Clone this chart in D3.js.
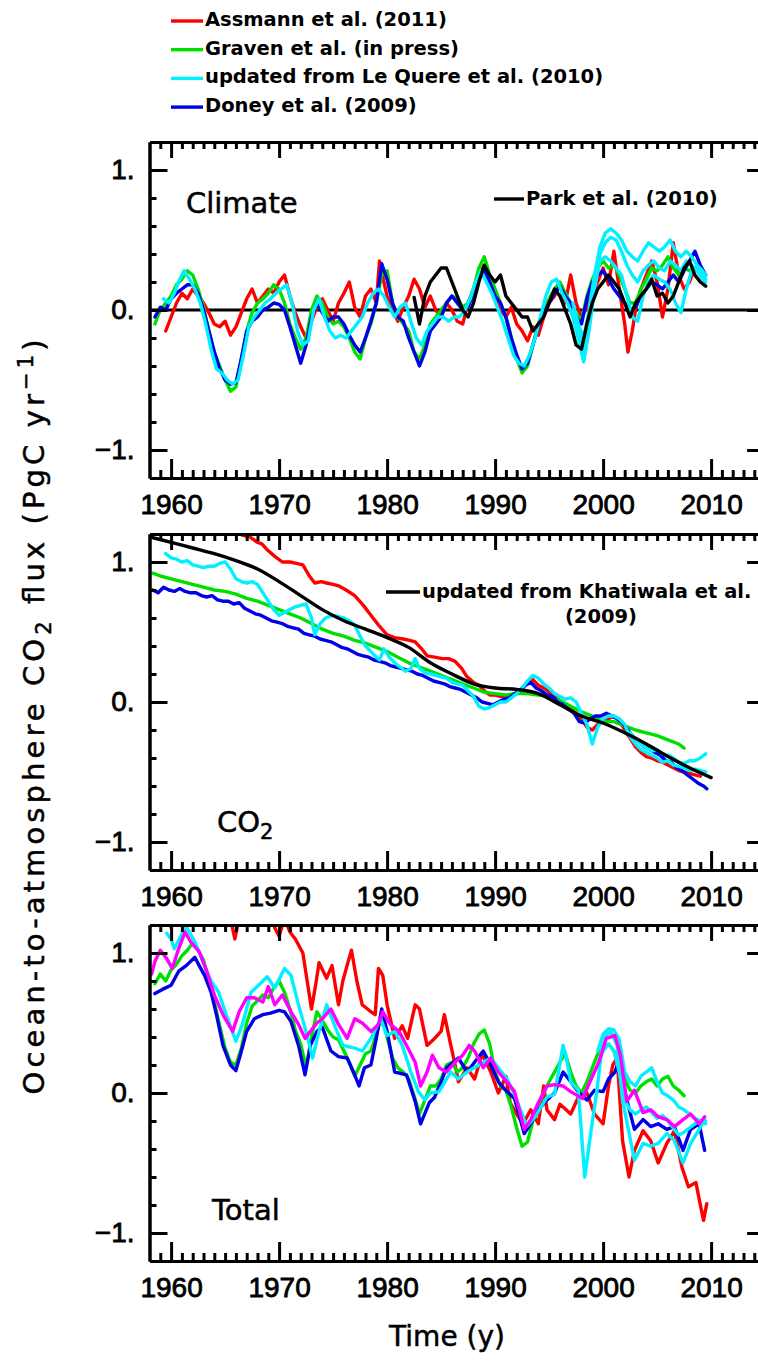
<!DOCTYPE html>
<html>
<head>
<meta charset="utf-8">
<script src="https://cdn.jsdelivr.net/npm/d3@7"></script>
<style>
  body { margin: 0; background: #fff; }
  svg { display: block; }
</style>
</head>
<body>
<svg id="chart" width="758" height="1369"></svg>
<script>
// ---------------------------------------------------------------
// Ocean-to-atmosphere CO2 flux anomalies (PgC / yr), [year, value]
// ---------------------------------------------------------------

const decadeTicks = [1960, 1970, 1980, 1990, 2000, 2010];
const valueTicks = [-1, 0, 1];
const minorValueTicks = [-0.8, -0.6, -0.4, -0.2, 0.2, 0.4, 0.6, 0.8];

const legendLabels = [
  "Assmann et al. (2011)",
  "Graven et al. (in press)",
  "updated from Le Quere et al. (2010)",
  "Doney et al. (2009)"
];

// ---- Climate panel ----
const climateAssmann = [[1959.5,-0.15],[1960,-0.05],[1960.5,0.05],[1961,0.12],[1961.5,0.08],[1962,0.15],[1962.5,0.1],[1963,0.05],[1963.5,-0.02],[1964,-0.1],[1964.5,-0.12],[1965,-0.08],[1965.5,-0.18],[1966,-0.12],[1966.5,-0.02],[1967,0.08],[1967.5,0.15],[1968,0.05],[1968.5,0.1],[1969,0.15],[1969.5,0.12],[1970,0.2],[1970.5,0.25],[1971,0.1],[1971.5,-0.02],[1972,-0.12],[1972.5,-0.2],[1973,-0.08],[1973.5,0.02],[1974,0.08],[1974.5,0.0],[1975,-0.08],[1975.5,0.05],[1976,0.12],[1976.5,0.2],[1977,0.02],[1977.5,-0.05],[1978,0.1],[1978.5,0.15],[1979,0.05],[1979.3,0.35],[1979.7,0.2],[1980,0.1],[1980.5,0.0],[1981,-0.08],[1981.5,0.02],[1982,0.1],[1982.5,0.22],[1983,0.15],[1983.5,0.02],[1984,0.1],[1984.5,0.0],[1985,-0.05],[1985.5,0.05],[1986,0.0],[1986.5,-0.08],[1987,-0.1],[1987.5,0.05],[1988,0.15],[1988.5,0.25],[1989,0.32],[1989.5,0.18],[1990,0.12],[1990.5,0.0],[1991,-0.05],[1991.5,0.02],[1992,-0.1],[1992.5,-0.15],[1993,-0.22],[1993.5,-0.12],[1994,-0.18],[1994.5,-0.05],[1995,0.05],[1995.5,0.1],[1996,0.18],[1996.5,0.05],[1997,0.25],[1997.5,0.05],[1998,-0.05],[1998.5,0.02],[1999,0.12],[1999.5,0.2],[2000,0.3],[2000.5,0.18],[2001,0.42],[2001.5,0.15],[2002,-0.1],[2002.3,-0.3],[2002.7,-0.15],[2003,0.0],[2003.5,0.15],[2004,0.25],[2004.5,0.35],[2005,0.2],[2005.5,-0.05],[2006,0.15],[2006.5,0.48],[2007,0.25],[2007.5,0.15],[2008,0.2],[2008.5,0.3]];

const climateGraven = [[1958.5,-0.1],[1959,0.0],[1959.5,0.05],[1960,0.1],[1960.5,0.18],[1961,0.22],[1961.5,0.28],[1962,0.25],[1962.5,0.15],[1963,0.02],[1963.5,-0.15],[1964,-0.3],[1964.5,-0.4],[1965,-0.5],[1965.5,-0.58],[1966,-0.55],[1966.5,-0.35],[1967,-0.15],[1967.5,-0.02],[1968,0.05],[1968.5,0.08],[1969,0.12],[1969.5,0.18],[1970,0.15],[1970.5,0.05],[1971,-0.1],[1971.5,-0.2],[1972,-0.28],[1972.5,-0.2],[1973,0.0],[1973.5,0.1],[1974,0.05],[1974.5,-0.05],[1975,-0.1],[1975.5,-0.08],[1976,-0.12],[1976.5,-0.2],[1977,-0.3],[1977.5,-0.35],[1978,-0.2],[1978.5,-0.1],[1979,0.05],[1979.5,0.25],[1980,0.28],[1980.5,0.05],[1981,-0.05],[1981.5,-0.1],[1982,-0.15],[1982.5,-0.3],[1983,-0.35],[1983.5,-0.25],[1984,-0.1],[1984.5,-0.05],[1985,0.0],[1985.5,0.05],[1986,0.1],[1986.5,0.08],[1987,0.02],[1987.5,0.05],[1988,0.15],[1988.5,0.3],[1989,0.38],[1989.5,0.25],[1990,0.15],[1990.5,0.05],[1991,-0.05],[1991.5,-0.2],[1992,-0.35],[1992.5,-0.45],[1993,-0.4],[1993.5,-0.25],[1994,-0.1],[1994.5,0.0],[1995,0.08],[1995.5,0.15],[1996,0.2],[1996.5,0.12],[1997,0.05],[1997.5,-0.02],[1998,-0.08],[1998.5,0.1],[1999,0.22],[1999.5,0.3],[2000,0.35],[2000.5,0.3],[2001,0.32],[2001.5,0.25],[2002,0.15],[2002.5,0.05],[2003,0.05],[2003.5,0.15],[2004,0.22],[2004.5,0.3],[2005,0.28],[2005.5,0.32],[2006,0.38],[2006.5,0.3],[2007,0.25],[2007.5,0.3],[2008,0.28],[2008.5,0.3]];

const climateDoney = [[1958.5,-0.05],[1959,0.02],[1959.5,0.0],[1960,0.08],[1960.5,0.12],[1961,0.15],[1961.5,0.18],[1962,0.18],[1962.5,0.12],[1963,0.0],[1963.5,-0.15],[1964,-0.3],[1964.5,-0.42],[1965,-0.5],[1965.5,-0.53],[1966,-0.52],[1966.5,-0.35],[1967,-0.15],[1967.5,-0.08],[1968,-0.05],[1968.5,0.0],[1969,0.02],[1969.5,0.05],[1970,0.04],[1970.5,0.0],[1971,-0.12],[1971.5,-0.25],[1972,-0.38],[1972.5,-0.25],[1973,-0.05],[1973.5,0.05],[1974,-0.02],[1974.5,-0.08],[1975,-0.05],[1975.5,-0.05],[1976,-0.1],[1976.5,-0.18],[1977,-0.25],[1977.5,-0.3],[1978,-0.2],[1978.5,-0.08],[1979,0.05],[1979.5,0.33],[1980,0.22],[1980.5,0.05],[1981,-0.05],[1981.5,-0.08],[1982,-0.2],[1982.5,-0.3],[1983,-0.4],[1983.5,-0.3],[1984,-0.15],[1984.5,-0.1],[1985,-0.05],[1985.5,0.05],[1986,0.1],[1986.5,0.05],[1987,0.0],[1987.5,0.02],[1988,0.12],[1988.5,0.22],[1989,0.28],[1989.5,0.2],[1990,0.1],[1990.5,0.05],[1991,-0.05],[1991.5,-0.2],[1992,-0.32],[1992.5,-0.42],[1993,-0.38],[1993.5,-0.25],[1994,-0.12],[1994.5,-0.02],[1995,0.05],[1995.5,0.12],[1996,0.17],[1996.5,0.1],[1997,0.05],[1997.5,-0.05],[1998,-0.1],[1998.5,0.08],[1999,0.2],[1999.5,0.25],[2000,0.28],[2000.5,0.22],[2001,0.15],[2001.5,0.1],[2002,0.05],[2002.5,0.0],[2003,0.02],[2003.5,0.1],[2004,0.15],[2004.5,0.2],[2005,0.18],[2005.5,0.15],[2006,0.2],[2006.5,0.25],[2007,0.2],[2007.5,0.28],[2008,0.35],[2008.5,0.42],[2009,0.32],[2009.5,0.25]];

const climateLeQuere = [[1959.3,0.08],[1959.8,0.05],[1960.3,0.12],[1960.8,0.22],[1961.2,0.28],[1961.7,0.22],[1962.2,0.15],[1962.7,0.05],[1963.2,-0.1],[1963.7,-0.28],[1964.2,-0.42],[1964.7,-0.45],[1965.2,-0.5],[1965.7,-0.53],[1966.2,-0.5],[1966.7,-0.32],[1967.2,-0.12],[1967.7,-0.05],[1968.2,0.0],[1968.7,0.05],[1969.2,0.08],[1969.7,0.12],[1970.2,0.15],[1970.7,0.18],[1971.2,0.05],[1971.7,-0.15],[1972.2,-0.25],[1972.7,-0.22],[1973.2,0.0],[1973.7,0.08],[1974.2,-0.05],[1974.7,-0.15],[1975.2,-0.2],[1975.7,-0.18],[1976.2,-0.2],[1976.7,-0.15],[1977.2,-0.1],[1977.7,-0.05],[1978.2,0.05],[1978.7,0.12],[1979.2,0.15],[1979.7,0.1],[1980.2,0.02],[1980.7,-0.05],[1981.2,0.02],[1981.7,0.05],[1982.2,-0.08],[1982.7,-0.2],[1983.2,-0.25],[1983.7,-0.15],[1984.2,-0.1],[1984.7,-0.05],[1985.2,-0.05],[1985.7,-0.08],[1986.2,-0.05],[1986.7,-0.05],[1987.2,0.0],[1987.7,0.08],[1988.2,0.2],[1988.7,0.28],[1989.2,0.2],[1989.7,0.12],[1990.2,0.02],[1990.7,-0.08],[1991.2,-0.2],[1991.7,-0.32],[1992.2,-0.38],[1992.7,-0.4],[1993.2,-0.32],[1993.7,-0.2],[1994.2,-0.05],[1994.7,0.1],[1995.2,0.2],[1995.7,0.22],[1996.2,0.12],[1996.7,0.05],[1997.2,-0.05],[1997.7,-0.2],[1998.2,-0.37],[1998.7,-0.15],[1999.2,0.15],[1999.7,0.35],[2000.2,0.38],[2000.7,0.35],[2001.2,0.3],[2001.7,0.25],[2002.2,0.1],[2002.7,-0.05],[2003.2,-0.08],[2003.7,0.1],[2004.2,0.2],[2004.7,0.25],[2005.2,0.22],[2005.7,0.2],[2006.2,0.15],[2006.7,0.05],[2007.2,-0.02],[2007.7,0.15],[2008.2,0.28],[2008.7,0.3],[2009.2,0.25],[2009.5,0.22]];

const climateLeQuereB = [[1997.2,0.05],[1997.7,-0.1],[1998.2,-0.2],[1998.7,0.0],[1999.2,0.25],[1999.7,0.45],[2000.2,0.55],[2000.7,0.58],[2001.2,0.55],[2001.7,0.5],[2002.2,0.42],[2002.7,0.38],[2003.2,0.35],[2003.7,0.42],[2004.2,0.48],[2004.7,0.45],[2005.2,0.42],[2005.7,0.45],[2006.2,0.5],[2006.7,0.42],[2007.2,0.38],[2007.7,0.42],[2008.2,0.38],[2008.7,0.32],[2009.2,0.28],[2009.5,0.25]];

const climateLeQuereC = [[1997.2,0.0],[1997.7,-0.15],[1998.2,-0.3],[1998.7,-0.05],[1999.2,0.2],[1999.7,0.4],[2000.2,0.48],[2000.7,0.52],[2001.2,0.5],[2001.7,0.42],[2002.2,0.32],[2002.7,0.25],[2003.2,0.2],[2003.7,0.28],[2004.2,0.32],[2004.7,0.35],[2005.2,0.3],[2005.7,0.28],[2006.2,0.35],[2006.7,0.32],[2007.2,0.28],[2007.7,0.35],[2008.2,0.32],[2008.7,0.28],[2009.2,0.22],[2009.5,0.2]];

const climatePark = [[1982.5,0.09],[1983,-0.1],[1983.5,0.1],[1984,0.2],[1984.5,0.25],[1985,0.3],[1985.5,0.3],[1986,0.2],[1986.5,0.1],[1987,0.0],[1987.5,-0.05],[1988,0.05],[1988.5,0.2],[1989,0.32],[1989.5,0.25],[1990,0.2],[1990.5,0.25],[1991,0.1],[1991.5,0.05],[1992,0.0],[1992.5,-0.05],[1993,-0.05],[1993.5,-0.15],[1994,-0.1],[1994.5,-0.05],[1995,0.05],[1995.5,0.15],[1996,0.1],[1996.5,0.0],[1997,-0.1],[1997.5,-0.25],[1998,-0.28],[1998.5,-0.1],[1999,0.05],[1999.5,0.15],[2000,0.2],[2000.5,0.25],[2001,0.2],[2001.5,0.15],[2002,0.05],[2002.5,-0.05],[2003,0.05],[2003.5,0.1],[2004,0.15],[2004.5,0.22],[2005,0.1],[2005.5,0.12],[2006,0.05],[2006.5,0.1],[2007,0.2],[2007.5,0.3],[2008,0.35],[2008.5,0.25],[2009,0.2],[2009.5,0.17]];

// ---- CO2 panel ----
const co2Assmann = [[1965.6,1.28],[1966.6,1.19],[1967.3,1.18],[1968,1.14],[1968.4,1.13],[1969,1.08],[1969.6,1.04],[1970.3,1.0],[1971,1.0],[1971.6,0.99],[1972.2,0.98],[1972.8,0.9],[1973.3,0.85],[1973.9,0.86],[1974.4,0.85],[1975,0.84],[1975.5,0.83],[1976.2,0.8],[1977,0.76],[1977.8,0.69],[1978.5,0.62],[1979.2,0.55],[1980,0.48],[1980.7,0.46],[1981.5,0.45],[1982.1,0.44],[1982.6,0.43],[1983.2,0.38],[1983.7,0.33],[1984.4,0.32],[1985.1,0.31],[1985.7,0.31],[1986.3,0.29],[1986.9,0.24],[1987.4,0.18],[1988,0.14],[1988.5,0.12],[1989,0.08],[1989.5,0.05],[1990,0.05],[1990.5,0.04],[1991,0.04],[1991.5,0.05],[1992,0.06],[1992.5,0.1],[1993,0.14],[1993.5,0.16],[1994,0.12],[1994.5,0.1],[1995,0.07],[1995.5,0.04],[1996,0.01],[1996.5,-0.03],[1997,-0.05],[1997.5,-0.08],[1998,-0.12],[1998.5,-0.18],[1999,-0.2],[1999.5,-0.16],[2000,-0.14],[2000.5,-0.12],[2001,-0.1],[2001.5,-0.13],[2002,-0.2],[2002.5,-0.26],[2003,-0.32],[2003.5,-0.36],[2004,-0.39],[2004.5,-0.4],[2005,-0.42],[2005.5,-0.43],[2006,-0.45],[2006.5,-0.47],[2007,-0.49],[2007.5,-0.5],[2008,-0.51],[2008.5,-0.52],[2009,-0.53]];

const co2Graven = [[1958.3,0.92],[1959,0.9],[1960,0.88],[1961,0.86],[1962,0.84],[1963,0.82],[1964,0.8],[1965,0.79],[1966,0.77],[1967,0.74],[1968,0.72],[1969,0.69],[1970,0.66],[1971,0.63],[1972,0.6],[1973,0.56],[1974,0.52],[1975,0.49],[1976,0.47],[1977,0.44],[1978,0.42],[1979,0.39],[1980,0.36],[1981,0.32],[1982,0.28],[1983,0.25],[1984,0.22],[1985,0.19],[1986,0.16],[1987,0.13],[1988,0.1],[1989,0.07],[1990,0.06],[1991,0.05],[1992,0.06],[1993,0.06],[1994,0.05],[1995,0.04],[1996,0.01],[1997,-0.03],[1998,-0.07],[1999,-0.1],[2000,-0.14],[2001,-0.14],[2002,-0.17],[2003,-0.2],[2004,-0.22],[2005,-0.24],[2006,-0.27],[2007,-0.3],[2007.5,-0.33]];

const co2Doney = [[1958.3,0.8],[1958.8,0.78],[1959.3,0.82],[1959.8,0.8],[1960.3,0.79],[1960.8,0.81],[1961.3,0.79],[1961.8,0.78],[1962.3,0.78],[1962.8,0.76],[1963.3,0.75],[1963.8,0.76],[1964.3,0.73],[1964.8,0.72],[1965.3,0.72],[1965.8,0.7],[1966.3,0.71],[1966.8,0.67],[1967.3,0.65],[1967.8,0.63],[1968.3,0.62],[1968.8,0.6],[1969.3,0.58],[1969.8,0.57],[1970.3,0.56],[1970.8,0.54],[1971.3,0.53],[1971.8,0.52],[1972.3,0.49],[1972.8,0.48],[1973.3,0.47],[1973.8,0.45],[1974.3,0.44],[1974.8,0.43],[1975.3,0.41],[1975.8,0.39],[1976.3,0.38],[1976.8,0.36],[1977.3,0.34],[1977.8,0.33],[1978.3,0.32],[1978.8,0.3],[1979.3,0.29],[1979.8,0.28],[1980.3,0.26],[1980.8,0.25],[1981.3,0.24],[1981.8,0.23],[1982.3,0.22],[1982.8,0.2],[1983.3,0.19],[1983.8,0.17],[1984.3,0.15],[1984.8,0.14],[1985.3,0.13],[1985.8,0.11],[1986.3,0.1],[1986.8,0.09],[1987.3,0.07],[1987.8,0.05],[1988.3,0.03],[1988.8,0.0],[1989.3,-0.01],[1989.8,-0.02],[1990.3,0.0],[1990.8,0.02],[1991.3,0.03],[1991.8,0.06],[1992.3,0.08],[1992.8,0.12],[1993.3,0.14],[1993.8,0.1],[1994.3,0.08],[1994.8,0.05],[1995.3,0.04],[1995.8,0.0],[1996.3,-0.02],[1996.8,-0.05],[1997.3,-0.08],[1997.8,-0.14],[1998.3,-0.15],[1998.8,-0.12],[1999.3,-0.1],[1999.8,-0.1],[2000.3,-0.08],[2000.8,-0.1],[2001.3,-0.12],[2001.8,-0.15],[2002.3,-0.2],[2002.8,-0.25],[2003.3,-0.28],[2003.8,-0.32],[2004.3,-0.34],[2004.8,-0.36],[2005.3,-0.38],[2005.8,-0.42],[2006.3,-0.43],[2006.8,-0.47],[2007.3,-0.49],[2007.8,-0.52],[2008.3,-0.55],[2008.8,-0.58],[2009.3,-0.6],[2009.6,-0.62]];

const co2LeQuere = [[1959.5,1.06],[1960,1.03],[1960.5,1.02],[1961,1.0],[1961.5,1.01],[1962,0.98],[1962.5,0.97],[1963,0.96],[1963.5,0.97],[1964,0.97],[1964.5,0.99],[1965,1.0],[1965.5,0.95],[1966,0.88],[1966.5,0.86],[1967,0.85],[1967.5,0.86],[1968,0.84],[1968.5,0.78],[1969,0.72],[1969.5,0.66],[1970,0.62],[1970.5,0.64],[1971,0.66],[1971.5,0.68],[1972,0.69],[1972.5,0.7],[1973,0.6],[1973.3,0.48],[1973.8,0.56],[1974.3,0.6],[1975,0.62],[1975.5,0.61],[1976,0.6],[1976.5,0.58],[1977,0.55],[1977.5,0.47],[1978,0.4],[1978.5,0.36],[1979,0.32],[1979.3,0.3],[1979.7,0.38],[1980.2,0.32],[1980.7,0.28],[1981.2,0.25],[1981.7,0.22],[1982.2,0.24],[1982.6,0.31],[1983,0.24],[1983.5,0.21],[1984,0.2],[1984.5,0.19],[1985,0.18],[1985.5,0.17],[1986,0.14],[1986.5,0.13],[1987,0.12],[1987.5,0.08],[1988,0.04],[1988.5,-0.03],[1989,-0.05],[1989.5,-0.04],[1990,-0.02],[1990.5,0.0],[1991,0.0],[1991.5,0.03],[1992,0.06],[1992.5,0.1],[1993,0.15],[1993.5,0.19],[1994,0.17],[1994.5,0.13],[1995,0.1],[1995.5,0.06],[1996,0.04],[1996.5,0.02],[1997,0.03],[1997.5,0.0],[1998,-0.08],[1998.5,-0.16],[1999,-0.3],[1999.5,-0.18],[2000,-0.12],[2000.5,-0.1],[2001,-0.1],[2001.5,-0.12],[2002,-0.16],[2002.5,-0.25],[2003,-0.3],[2003.5,-0.34],[2004,-0.36],[2004.5,-0.38],[2005,-0.4],[2005.5,-0.43],[2006,-0.42],[2006.5,-0.45],[2007,-0.46],[2007.5,-0.47],[2008,-0.49],[2008.5,-0.48],[2009,-0.49],[2009.5,-0.5]];

const co2LeQuereB = [[2002.5,-0.22],[2003,-0.27],[2003.5,-0.3],[2004,-0.33],[2004.5,-0.35],[2005,-0.34],[2005.5,-0.37],[2006,-0.38],[2006.5,-0.4],[2007,-0.43],[2007.5,-0.44],[2008,-0.42],[2008.5,-0.42],[2009,-0.4],[2009.5,-0.37]];

const co2Khatiwala = [[1958,1.18],[1960,1.14],[1962,1.1],[1964,1.06],[1966,1.01],[1968,0.95],[1970,0.86],[1972,0.76],[1974,0.66],[1976,0.58],[1978,0.52],[1980,0.46],[1982,0.39],[1984,0.28],[1986,0.2],[1988,0.13],[1990,0.1],[1992,0.09],[1994,0.06],[1996,-0.02],[1998,-0.1],[2000,-0.15],[2002,-0.22],[2004,-0.3],[2006,-0.39],[2008,-0.47],[2010,-0.54]];

// ---- Total panel ----
const totalAssmann = [[1959.5,1.3],[1960,1.18],[1960.5,1.3],[1961,1.35],[1962,1.4],[1963,1.4],[1964,1.35],[1965,1.3],[1965.5,1.25],[1965.9,1.1],[1966.3,1.25],[1967,1.35],[1967.5,1.25],[1968,1.3],[1969,1.3],[1969.6,1.18],[1970,1.12],[1970.5,1.25],[1971,1.15],[1971.5,1.1],[1972.2,1.0],[1972.6,0.8],[1973.0,0.6],[1973.4,0.78],[1973.7,0.93],[1974.4,0.82],[1974.9,0.91],[1975.5,0.63],[1975.9,0.8],[1976.4,0.94],[1976.7,1.02],[1977.2,0.8],[1977.7,0.63],[1978.5,0.58],[1978.9,0.56],[1979.2,0.89],[1979.6,0.84],[1980.0,0.63],[1980.7,0.39],[1981.4,0.48],[1981.9,0.39],[1982.6,0.63],[1983.0,0.6],[1983.7,0.34],[1984.4,0.39],[1985.0,0.44],[1985.3,0.56],[1985.9,0.34],[1986.3,0.2],[1986.6,0.08],[1987.4,0.18],[1988.1,0.1],[1988.8,0.28],[1989.6,0.15],[1990.3,0.0],[1991.0,0.12],[1991.4,-0.07],[1992.0,-0.15],[1992.6,-0.22],[1993.3,-0.12],[1994.0,-0.22],[1994.5,0.05],[1994.8,-0.12],[1995.5,-0.19],[1996.0,-0.08],[1996.3,-0.1],[1997.0,-0.15],[1997.7,-0.03],[1998.5,0.0],[1999.2,-0.15],[2000.0,-0.22],[2000.5,0.05],[2000.9,0.2],[2001.3,0.25],[2001.8,-0.34],[2002.4,-0.6],[2002.9,-0.41],[2003.7,-0.27],[2004.4,-0.34],[2005.1,-0.5],[2005.9,-0.36],[2006.6,-0.27],[2007.3,-0.53],[2007.9,-0.67],[2008.6,-0.64],[2008.9,-0.76],[2009.3,-0.91],[2009.6,-0.79]];

const totalGraven = [[1958.5,0.78],[1959,0.85],[1959.5,0.8],[1960,0.88],[1960.5,0.92],[1961,0.98],[1961.5,1.02],[1962,1.07],[1962.5,1.02],[1963,0.95],[1963.5,0.8],[1964,0.65],[1964.5,0.48],[1965,0.32],[1965.5,0.22],[1966,0.2],[1966.5,0.32],[1967,0.5],[1967.5,0.62],[1968,0.66],[1968.5,0.7],[1969,0.68],[1969.5,0.75],[1970,0.8],[1970.5,0.72],[1971,0.6],[1971.5,0.45],[1972,0.35],[1972.5,0.18],[1973,0.4],[1973.5,0.58],[1974,0.52],[1974.5,0.45],[1975,0.4],[1975.5,0.38],[1976,0.3],[1976.5,0.22],[1977,0.12],[1977.5,0.2],[1978,0.28],[1978.5,0.3],[1979,0.42],[1979.5,0.55],[1980,0.4],[1980.5,0.25],[1981,0.18],[1981.5,0.15],[1982,0.1],[1982.5,-0.02],[1983,-0.15],[1983.5,-0.05],[1984,0.05],[1984.5,0.05],[1985,0.1],[1985.5,0.2],[1986,0.22],[1986.5,0.15],[1987,0.18],[1987.5,0.25],[1988,0.35],[1988.5,0.42],[1989,0.45],[1989.5,0.35],[1990,0.15],[1990.5,0.05],[1991,0.02],[1991.5,-0.1],[1992,-0.25],[1992.5,-0.38],[1993,-0.35],[1993.5,-0.2],[1994,-0.08],[1994.5,0.0],[1995,0.08],[1995.5,0.15],[1996,0.22],[1996.5,0.28],[1997,0.15],[1997.5,0.05],[1998,0.0],[1998.5,0.08],[1999,0.18],[1999.5,0.28],[2000,0.32],[2000.5,0.35],[2001,0.3],[2001.5,0.22],[2002,0.1],[2002.5,0.02],[2003,0.0],[2003.5,0.05],[2004,0.08],[2004.5,0.1],[2005,0.05],[2005.5,0.1],[2006,0.12],[2006.5,0.05],[2007,0.02],[2007.5,-0.02]];

const totalDoney = [[1958.5,0.71],[1959.2,0.74],[1960.0,0.77],[1960.7,0.87],[1961.4,0.91],[1962.2,0.97],[1962.6,0.91],[1963.1,0.84],[1963.7,0.72],[1964.2,0.56],[1964.8,0.34],[1965.5,0.2],[1966.0,0.16],[1966.4,0.27],[1967.0,0.44],[1967.7,0.53],[1968.5,0.56],[1969.2,0.57],[1970.0,0.59],[1970.5,0.58],[1971.1,0.51],[1971.8,0.34],[1972.4,0.13],[1972.9,0.34],[1973.5,0.44],[1974.0,0.47],[1974.8,0.3],[1975.5,0.26],[1976.3,0.25],[1977.0,0.13],[1977.4,0.05],[1977.9,0.18],[1978.5,0.2],[1979.0,0.39],[1979.5,0.6],[1980.0,0.44],[1980.7,0.15],[1981.8,0.13],[1982.6,-0.06],[1983.1,-0.22],[1983.9,-0.07],[1984.4,-0.03],[1985.0,0.08],[1985.5,0.18],[1986.6,0.25],[1987.4,0.15],[1988.1,0.22],[1988.9,0.3],[1989.6,0.2],[1990.3,0.08],[1991.1,0.01],[1991.8,-0.04],[1992.7,-0.29],[1993.3,-0.22],[1994.0,-0.12],[1994.8,-0.05],[1995.5,0.0],[1996.3,0.15],[1997.0,0.08],[1997.7,0.01],[1998.5,-0.05],[1999.2,0.02],[2000.0,0.01],[2000.5,0.1],[2001.1,0.15],[2001.4,0.22],[2002.2,-0.05],[2002.9,-0.26],[2003.7,-0.19],[2004.4,-0.24],[2005.1,-0.22],[2005.9,-0.26],[2006.6,-0.24],[2007.4,-0.41],[2008.1,-0.26],[2008.9,-0.22],[2009.4,-0.41]];

const totalLeQuere = [[1959.6,1.14],[1960.0,1.1],[1960.3,1.03],[1961.1,1.15],[1961.4,1.19],[1962.2,1.08],[1963.1,0.91],[1963.7,0.8],[1964.4,0.72],[1965.1,0.56],[1966.0,0.37],[1966.6,0.49],[1967.4,0.72],[1968.1,0.77],[1968.9,0.83],[1969.6,0.75],[1970.5,0.89],[1971.1,0.84],[1971.8,0.63],[1972.6,0.41],[1973.1,0.25],[1973.7,0.44],[1974.4,0.63],[1975.1,0.49],[1975.9,0.34],[1977.0,0.32],[1977.7,0.3],[1978.5,0.39],[1979.4,0.53],[1980.0,0.41],[1980.7,0.44],[1981.4,0.34],[1982.2,0.15],[1982.9,0.01],[1983.5,-0.05],[1984.0,0.0],[1984.8,0.01],[1985.9,0.15],[1986.6,0.1],[1987.4,0.15],[1988.5,0.2],[1989.6,0.25],[1990.3,0.18],[1991.1,0.1],[1991.8,-0.01],[1992.6,-0.17],[1992.9,-0.24],[1993.7,-0.17],[1994.8,-0.03],[1995.5,-0.01],[1996.3,0.34],[1996.6,0.25],[1997.0,0.08],[1997.7,0.02],[1998.3,-0.6],[1998.9,-0.26],[1999.4,0.0],[2000.0,0.39],[2000.7,0.44],[2001.3,0.34],[2001.8,-0.05],[2002.9,-0.48],[2003.7,-0.36],[2004.4,-0.38],[2005.1,-0.36],[2005.9,-0.29],[2006.6,-0.34],[2007.4,-0.5],[2008.1,-0.36],[2008.9,-0.26],[2009.4,-0.19]];

const totalLeQuereB = [[1999.5,0.3],[2000.0,0.42],[2000.5,0.46],[2001.0,0.45],[2001.5,0.38],[2002.0,0.15],[2002.5,0.08],[2003.0,0.05],[2003.5,0.12],[2004.0,0.15],[2004.5,0.18],[2005.0,0.08],[2005.5,0.0],[2006.0,-0.02],[2006.5,-0.05],[2007.0,-0.1],[2007.5,-0.12],[2008.0,-0.15],[2008.5,-0.18],[2009.0,-0.2],[2009.5,-0.22]];

const totalLeQuereC = [[1999.5,0.2],[2000.0,0.3],[2000.5,0.35],[2001.0,0.3],[2001.5,0.15],[2002.0,-0.05],[2002.5,-0.12],[2003.0,-0.15],[2003.5,-0.12],[2004.0,-0.1],[2004.5,-0.14],[2005.0,-0.18],[2005.5,-0.16],[2006.0,-0.2],[2006.5,-0.25],[2007.0,-0.3],[2007.5,-0.28],[2008.0,-0.25],[2008.5,-0.22],[2009.0,-0.2],[2009.5,-0.2]];

const totalMagenta = [[1958.2,0.85],[1958.5,0.94],[1959.0,1.02],[1959.6,0.96],[1960.1,0.89],[1960.7,1.03],[1961.3,1.15],[1961.8,1.08],[1962.6,1.01],[1963.3,0.87],[1964.0,0.7],[1964.8,0.56],[1965.7,0.44],[1966.3,0.58],[1967.0,0.68],[1967.7,0.68],[1968.5,0.65],[1969.0,0.76],[1969.6,0.63],[1970.3,0.7],[1971.1,0.58],[1971.8,0.49],[1972.4,0.39],[1972.9,0.44],[1973.5,0.5],[1974.0,0.53],[1974.8,0.6],[1975.5,0.49],[1976.3,0.39],[1977.0,0.53],[1977.7,0.5],[1978.5,0.44],[1979.2,0.49],[1979.6,0.58],[1980.3,0.49],[1981.1,0.44],[1981.8,0.34],[1982.6,0.22],[1983.1,0.05],[1983.7,0.15],[1984.2,0.27],[1984.8,0.18],[1985.5,0.15],[1986.3,0.22],[1987.0,0.27],[1987.6,0.34],[1988.1,0.3],[1988.9,0.18],[1989.6,0.25],[1990.3,0.15],[1991.1,0.08],[1991.8,0.01],[1992.7,-0.26],[1993.3,-0.19],[1994.0,-0.07],[1994.8,0.05],[1995.5,0.06],[1996.3,0.05],[1997.0,0.01],[1998.1,-0.04],[1998.9,0.1],[1999.6,0.22],[2000.3,0.39],[2001.1,0.41],[2001.6,0.27],[2002.2,-0.06],[2002.9,0.02],[2003.7,-0.14],[2004.4,-0.12],[2005.1,-0.17],[2005.9,-0.19],[2006.6,-0.24],[2007.4,-0.19],[2008.1,-0.15],[2008.9,-0.22],[2009.4,-0.17]];

// ---------------------------------------------------------------
// Styling
// ---------------------------------------------------------------
const colors = {
  assmann: "#ff0000",
  graven: "#00e000",
  lequere: "#00f0ff",
  doney: "#0000e6",
  black: "#000000",
  magenta: "#ff00ff"
};
const legendColors = [colors.assmann, colors.graven, colors.lequere, colors.doney];

const numFont = "'Liberation Sans', Arial, sans-serif";
const textFont = "'DejaVu Sans', Verdana, sans-serif";

const svg = d3.select("#chart");
svg.append("rect").attr("width", 758).attr("height", 1369).attr("fill", "#fff");

const panelH = 336;
const x = d3.scaleLinear().domain([1958, 2015]).range([149.5, 765.1]);

const panels = [
  {
    id: "climate", top: 142, zero: true,
    series: [
      { data: climateAssmann, color: colors.assmann },
      { data: climateGraven, color: colors.graven },
      { data: climateDoney, color: colors.doney },
      { data: climateLeQuereB, color: colors.lequere },
      { data: climateLeQuereC, color: colors.lequere },
      { data: climateLeQuere, color: colors.lequere },
      { data: climatePark, color: colors.black }
    ]
  },
  {
    id: "co2", top: 534, zero: false,
    series: [
      { data: co2Assmann, color: colors.assmann },
      { data: co2Graven, color: colors.graven },
      { data: co2Doney, color: colors.doney },
      { data: co2LeQuereB, color: colors.lequere },
      { data: co2LeQuere, color: colors.lequere },
      { data: co2Khatiwala, color: colors.black, smooth: true }
    ]
  },
  {
    id: "total", top: 925, zero: false,
    series: [
      { data: totalAssmann, color: colors.assmann },
      { data: totalGraven, color: colors.graven },
      { data: totalDoney, color: colors.doney },
      { data: totalLeQuereB, color: colors.lequere },
      { data: totalLeQuereC, color: colors.lequere },
      { data: totalLeQuere, color: colors.lequere },
      { data: totalMagenta, color: colors.magenta }
    ]
  }
];

const minorYears = d3.range(1959, 2015).filter(yr => yr % 10 !== 0);
const fmtValue = v => v === 0 ? "0." : (v < 0 ? "\u22121." : "1.");

function styleAxis(g) {
  g.attr("font-family", null).attr("font-size", null);
  g.select(".domain").attr("stroke", "#000").attr("stroke-width", 3);
  g.selectAll(".tick line").attr("stroke", "#000").attr("stroke-width", 3);
}

function heavyText(sel, size) {
  sel.attr("font-family", numFont).attr("font-size", size)
    .attr("fill", "#000").attr("stroke", "#000").attr("stroke-width", 0.8);
}

panels.forEach(p => {
  const y = d3.scaleLinear().domain([-1.2, 1.2]).range([p.top + panelH, p.top]);
  const x0 = x.range()[0], x1 = x.range()[1];

  svg.append("clipPath").attr("id", "clip-" + p.id)
    .append("rect")
    .attr("x", x0).attr("y", p.top)
    .attr("width", x1 - x0).attr("height", panelH);

  const plot = svg.append("g").attr("clip-path", `url(#clip-${p.id})`);

  if (p.zero) {
    plot.append("line")
      .attr("x1", x0).attr("x2", x1)
      .attr("y1", y(0)).attr("y2", y(0))
      .attr("stroke", "#000").attr("stroke-width", 3);
  }

  p.series.forEach(s => {
    const line = d3.line()
      .x(d => x(d[0]))
      .y(d => y(d[1]))
      .curve(s.smooth ? d3.curveMonotoneX : d3.curveLinear);
    plot.append("path")
      .datum(s.data)
      .attr("d", line)
      .attr("fill", "none")
      .attr("stroke", s.color)
      .attr("stroke-width", 3.4)
      .attr("stroke-linejoin", "round")
      .attr("stroke-linecap", "round");
  });

  // bottom axis (labelled), ticks pointing inward
  svg.append("g")
    .attr("transform", `translate(0,${p.top + panelH})`)
    .call(d3.axisBottom(x).tickValues(minorYears).tickSize(-8).tickSizeOuter(0).tickFormat(""))
    .call(styleAxis);
  const bottomMajor = svg.append("g")
    .attr("transform", `translate(0,${p.top + panelH})`)
    .call(d3.axisBottom(x).tickValues(decadeTicks).tickSizeInner(-19).tickSizeOuter(0)
      .tickPadding(16).tickFormat(d3.format("d")))
    .call(styleAxis);
  bottomMajor.selectAll("text").call(heavyText, 28);

  // top axis
  svg.append("g")
    .attr("transform", `translate(0,${p.top})`)
    .call(d3.axisTop(x).tickValues(minorYears).tickSize(-7).tickSizeOuter(0).tickFormat(""))
    .call(styleAxis);
  svg.append("g")
    .attr("transform", `translate(0,${p.top})`)
    .call(d3.axisTop(x).tickValues(decadeTicks).tickSize(-16).tickSizeOuter(0).tickFormat(""))
    .call(styleAxis);

  // left axis (labelled)
  svg.append("g")
    .attr("transform", `translate(${x0},0)`)
    .call(d3.axisLeft(y).tickValues(minorValueTicks).tickSize(-7).tickSizeOuter(0).tickFormat(""))
    .call(styleAxis);
  const leftMajor = svg.append("g")
    .attr("transform", `translate(${x0},0)`)
    .call(d3.axisLeft(y).tickValues(valueTicks).tickSizeInner(-18).tickSizeOuter(0)
      .tickPadding(15).tickFormat(fmtValue))
    .call(styleAxis);
  leftMajor.selectAll("text").call(heavyText, 28);

  // right axis
  svg.append("g")
    .attr("transform", `translate(${x1},0)`)
    .call(d3.axisRight(y).tickValues(minorValueTicks).tickSize(-7).tickSizeOuter(0).tickFormat(""))
    .call(styleAxis);
  svg.append("g")
    .attr("transform", `translate(${x1},0)`)
    .call(d3.axisRight(y).tickValues(valueTicks).tickSize(-18).tickSizeOuter(0).tickFormat(""))
    .call(styleAxis);
});

// ---------------------------------------------------------------
// Legend (top) and in-panel labels
// ---------------------------------------------------------------
const legend = svg.append("g");
legendLabels.forEach((label, i) => {
  const base = 26 + i * 28.7;
  legend.append("line")
    .attr("x1", 171).attr("x2", 203)
    .attr("y1", base - 5).attr("y2", base - 5)
    .attr("stroke", legendColors[i]).attr("stroke-width", 3.4);
  legend.append("text")
    .attr("x", 205).attr("y", base)
    .attr("font-family", textFont).attr("font-weight", "bold").attr("font-size", 19.5)
    .text(label);
});

// Park et al. entry inside climate panel
svg.append("line").attr("x1", 494).attr("x2", 524).attr("y1", 199).attr("y2", 199)
  .attr("stroke", "#000").attr("stroke-width", 3.4);
svg.append("text").attr("x", 526).attr("y", 205)
  .attr("font-family", textFont).attr("font-weight", "bold").attr("font-size", 19.5)
  .text("Park et al. (2010)");

// Khatiwala et al. entry inside CO2 panel
svg.append("line").attr("x1", 386).attr("x2", 420).attr("y1", 592).attr("y2", 592)
  .attr("stroke", "#000").attr("stroke-width", 3.4);
svg.append("text").attr("x", 422).attr("y", 598)
  .attr("font-family", textFont).attr("font-weight", "bold").attr("font-size", 19.5)
  .text("updated from Khatiwala et al.");
svg.append("text").attr("x", 601).attr("y", 623).attr("text-anchor", "middle")
  .attr("font-family", textFont).attr("font-weight", "bold").attr("font-size", 19.5)
  .text("(2009)");

// panel names
const nameStyle = sel => sel.attr("font-family", textFont).attr("font-size", 29)
  .attr("fill", "#000").attr("stroke", "#000").attr("stroke-width", 0.5);
svg.append("text").attr("x", 186).attr("y", 213).call(nameStyle).text("Climate");
const co2Label = svg.append("text").attr("x", 217).attr("y", 832).call(nameStyle);
co2Label.append("tspan").text("CO");
co2Label.append("tspan").attr("dy", 7).attr("font-size", 21).text("2");
svg.append("text").attr("x", 212).attr("y", 1220).call(nameStyle).text("Total");

// axis titles
svg.append("text").attr("x", 447).attr("y", 1346).attr("text-anchor", "middle")
  .call(nameStyle).attr("font-size", 28).text("Time (y)");

const yTitle = svg.append("text")
  .attr("transform", "translate(44,717) rotate(-90)")
  .attr("text-anchor", "middle")
  .call(nameStyle)
  .attr("textLength", 755).attr("lengthAdjust", "spacing");
yTitle.append("tspan").text("Ocean-to-atmosphere CO");
yTitle.append("tspan").attr("dy", 7).attr("font-size", 21).text("2");
yTitle.append("tspan").attr("dy", -7).text(" flux (PgC yr");
yTitle.append("tspan").attr("dy", -11).attr("font-size", 21).text("\u22121");
yTitle.append("tspan").attr("dy", 11).text(")");
</script>
</body>
</html>
